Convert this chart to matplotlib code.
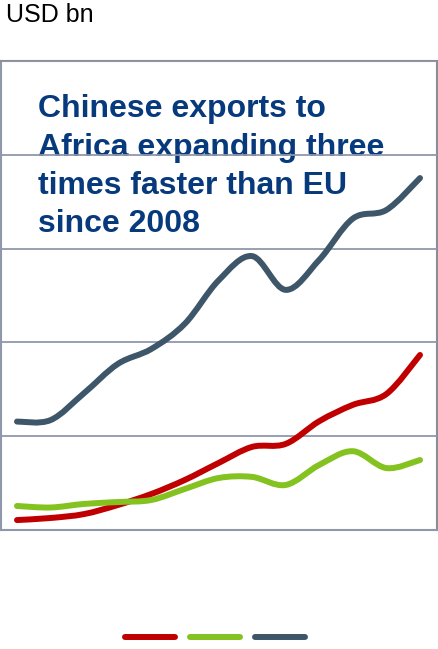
import matplotlib
matplotlib.use("Agg")
import matplotlib.pyplot as plt
import numpy as np
from matplotlib.path import Path
from matplotlib.patches import PathPatch
from matplotlib.lines import Line2D

plt.rcParams["font.family"] = ["Liberation Sans", "DejaVu Sans"]

# exports to Africa, USD bn
years = list(range(2001, 2014))
eu_exports = [57.8, 58.6, 73.0, 88.5, 96.5, 110.0, 133.0, 146.0, 128.0, 144.0, 166.0, 170.6, 187.6]
china_exports = [5.3, 6.4, 8.5, 13.3, 19.2, 26.7, 35.7, 44.3, 45.9, 58.0, 66.7, 72.5, 93.3]
us_exports = [12.8, 12.0, 13.9, 14.9, 16.0, 21.9, 27.7, 28.3, 24.0, 34.7, 42.0, 33.0, 37.3]

series = [
    (china_exports, "#c00000"),
    (us_exports, "#83c21f"),
    (eu_exports, "#3e5669"),
]

title = "Chinese exports to\nAfrica expanding three\ntimes faster than EU\nsince 2008"
grid_col = "#8f97aa"


def smooth_path(x, y):
    """Bezier path through the points, spreadsheet-style smoothing"""
    pts = np.column_stack([x, y]).astype(float)
    n = len(pts)
    verts = [pts[0]]
    codes = [Path.MOVETO]
    for i in range(n - 1):
        p0 = pts[max(i - 1, 0)]
        p1 = pts[i]
        p2 = pts[i + 1]
        p3 = pts[min(i + 2, n - 1)]
        verts += [p1 + (p2 - p0) / 6, p2 - (p3 - p1) / 6, p2]
        codes += [Path.CURVE4] * 3
    return Path(verts, codes)


fig = plt.figure(figsize=(4.38, 6.49), dpi=100)
ax = fig.add_axes([1 / 438, 119 / 649, 436 / 438, 469 / 649])

for values, colour in series:
    patch = PathPatch(
        smooth_path(years, values),
        facecolor="none",
        edgecolor=colour,
        linewidth=4.3,
        capstyle="round",
        joinstyle="round",
        zorder=3,
    )
    ax.add_patch(patch)

ax.set_xlim(years[0] - 16 / 33.6, years[-1] + 17 / 33.6)
ax.set_ylim(0, 250)
ax.set_yticks(np.arange(0, 251, 50))
ax.set_xticks([])
ax.tick_params(axis="y", length=0, labelleft=False)
ax.set_axisbelow(False)
ax.grid(axis="y", color=grid_col, linewidth=1.3, zorder=2)
for side, spine in ax.spines.items():
    spine.set_color("#8a8d96" if side in ("top", "right") else grid_col)
    spine.set_linewidth(1.5)

ax.text(
    0.085, 0.929, title,
    transform=ax.transAxes,
    fontsize=23, fontweight="bold", color="#073a7c",
    va="top", ha="left", linespacing=1.36, zorder=1,
)

fig.text(6 / 438, 0.995, "USD bn", fontsize=18, va="top", ha="left", color="black")

handles = [
    Line2D([], [], color=colour, linewidth=4.3, solid_capstyle="round")
    for _, colour in series
]
fig.legend(
    handles, ["", "", ""],
    ncol=3, loc="center", bbox_to_anchor=(0.492, 0.017),
    frameon=False, handlelength=3.6, handletextpad=0.0, columnspacing=1.08,
)

fig.savefig("out.png", dpi=100)
